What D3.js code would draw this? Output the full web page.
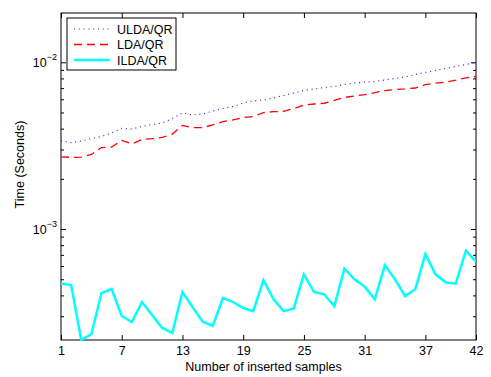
<!DOCTYPE html>
<html>
<head>
<meta charset="utf-8">
<script src="https://cdn.jsdelivr.net/npm/d3@7"></script>
<style>
  body { margin: 0; background: #fff; }
  text { font-family: "Liberation Sans", Arial, sans-serif; }
</style>
</head>
<body>
<div class="chart"></div>
<script>
// data
const samples = d3.range(1, 43);
const ulda = [3.39e-3, 3.30e-3, 3.37e-3, 3.49e-3, 3.59e-3, 3.77e-3, 4.01e-3, 3.98e-3, 4.12e-3, 4.24e-3,
    4.32e-3, 4.60e-3, 4.97e-3, 4.83e-3, 4.90e-3, 5.10e-3, 5.28e-3, 5.43e-3, 5.70e-3, 5.86e-3,
    5.94e-3, 6.11e-3, 6.32e-3, 6.55e-3, 6.78e-3, 6.92e-3, 7.06e-3, 7.16e-3, 7.36e-3, 7.51e-3,
    7.62e-3, 7.67e-3, 7.83e-3, 8.00e-3, 8.16e-3, 8.45e-3, 8.69e-3, 8.93e-3, 9.18e-3, 9.44e-3,
    9.70e-3, 9.97e-3];
const lda = [2.71e-3, 2.69e-3, 2.70e-3, 2.80e-3, 3.08e-3, 3.10e-3, 3.40e-3, 3.24e-3, 3.44e-3, 3.48e-3,
    3.54e-3, 3.71e-3, 4.18e-3, 4.05e-3, 4.06e-3, 4.21e-3, 4.41e-3, 4.51e-3, 4.67e-3, 4.73e-3,
    4.99e-3, 5.06e-3, 5.07e-3, 5.28e-3, 5.54e-3, 5.62e-3, 5.68e-3, 5.90e-3, 6.15e-3, 6.28e-3,
    6.39e-3, 6.57e-3, 6.77e-3, 6.86e-3, 6.92e-3, 7.01e-3, 7.34e-3, 7.49e-3, 7.60e-3, 7.81e-3,
    8.07e-3, 8.22e-3];
const ilda = [4.72e-4, 4.61e-4, 2.16e-4, 2.34e-4, 4.13e-4, 4.37e-4, 3.01e-4, 2.77e-4, 3.65e-4, 3.05e-4,
    2.55e-4, 2.38e-4, 4.19e-4, 3.40e-4, 2.78e-4, 2.63e-4, 3.86e-4, 3.65e-4, 3.36e-4, 3.22e-4,
    4.94e-4, 3.79e-4, 3.22e-4, 3.34e-4, 5.35e-4, 4.19e-4, 4.06e-4, 3.45e-4, 5.78e-4, 4.99e-4,
    4.51e-4, 3.79e-4, 6.06e-4, 4.99e-4, 3.96e-4, 4.35e-4, 7.08e-4, 5.35e-4, 4.79e-4, 4.70e-4,
    7.41e-4, 6.37e-4];
const xTicks = [1, 7, 13, 19, 25, 31, 37, 42];
const yTicks = [1e-3, 1e-2];
const yMinor = [3e-4, 4e-4, 5e-4, 6e-4, 7e-4, 8e-4, 9e-4,
    2e-3, 3e-3, 4e-3, 5e-3, 6e-3, 7e-3, 8e-3, 9e-3];

const margin = {top: 13, left: 61, bottom: 37, right: 15};
const width = 491 - margin.left - margin.right;
const height = 377 - margin.top - margin.bottom;

const svg = d3.select('.chart')
    .append('svg')
    .attr('width', 491)
    .attr('height', 377)
    .append('g')
    .attr('transform', 'translate(' + margin.left + ',' + margin.top + ')');

const xScale = d3.scaleLinear().domain([1, 42]).range([0, width]);
const yScale = d3.scaleLog().domain([2.16e-4, 1.975e-2]).range([height, 0]);

function styleAxis(g) {
    g.select('.domain').remove();
    g.selectAll('line').attr('stroke', '#000');
    g.selectAll('text').attr('font-size', '12.5px').attr('fill', '#000');
}

// x axis bottom + top
svg.append('g')
    .attr('transform', 'translate(0,' + height + ')')
    .call(d3.axisBottom(xScale).tickValues(xTicks).tickSizeInner(-5).tickSizeOuter(0).tickPadding(6))
    .call(styleAxis);
svg.append('g')
    .call(d3.axisTop(xScale).tickValues(xTicks).tickSizeInner(-5).tickSizeOuter(0).tickFormat(''))
    .call(styleAxis);

// y axis left + right, major and minor
svg.append('g')
    .call(d3.axisLeft(yScale).tickValues(yTicks).tickSizeInner(-5).tickSizeOuter(0).tickFormat(''))
    .call(styleAxis);
svg.append('g')
    .call(d3.axisLeft(yScale).tickValues(yMinor).tickSizeInner(-3).tickSizeOuter(0).tickFormat(''))
    .call(styleAxis);
svg.append('g')
    .attr('transform', 'translate(' + width + ',0)')
    .call(d3.axisRight(yScale).tickValues(yTicks).tickSizeInner(-5).tickSizeOuter(0).tickFormat(''))
    .call(styleAxis);
svg.append('g')
    .attr('transform', 'translate(' + width + ',0)')
    .call(d3.axisRight(yScale).tickValues(yMinor).tickSizeInner(-3).tickSizeOuter(0).tickFormat(''))
    .call(styleAxis);

// power-of-ten labels
const ylab = svg.selectAll('.ylab')
    .data(yTicks)
    .enter()
    .append('text')
    .attr('class', 'ylab')
    .attr('x', -4)
    .attr('y', d => yScale(d) + 4.5)
    .attr('text-anchor', 'end')
    .attr('font-size', '12.5px');
ylab.append('tspan').text('10');
ylab.append('tspan')
    .attr('dy', -7)
    .attr('font-size', '9px')
    .text(d => '\u2212' + Math.round(-Math.log10(d)));

// frame
svg.append('rect')
    .attr('width', width)
    .attr('height', height)
    .attr('fill', 'none')
    .attr('stroke', '#000')
    .attr('stroke-width', 1);

// lines
const line = d3.line()
    .x((d, i) => xScale(samples[i]))
    .y(d => yScale(d));

const clip = svg.append('clipPath').attr('id', 'clip')
    .append('rect').attr('width', width).attr('height', height + 1);

const series = [
    {name: 'ULDA/QR', values: ulda, color: '#2626ff', w: 1.2, dash: '1,3.8'},
    {name: 'LDA/QR', values: lda, color: '#ff0000', w: 1.3, dash: '8,5'},
    {name: 'ILDA/QR', values: ilda, color: '#00ffff', w: 2.5, dash: null}
];

series.forEach(s => {
    svg.append('path')
        .datum(s.values)
        .attr('d', line)
        .attr('fill', 'none')
        .attr('stroke', s.color)
        .attr('stroke-width', s.w)
        .attr('stroke-dasharray', s.dash)
        .attr('clip-path', 'url(#clip)');
});

// axis titles
svg.append('text')
    .attr('x', width / 2 - 5)
    .attr('y', height + 31)
    .attr('text-anchor', 'middle')
    .attr('font-size', '12.5px')
    .text('Number of inserted samples');
svg.append('text')
    .attr('transform', 'translate(' + (-37) + ',' + (height / 2 - 12) + ') rotate(-90)')
    .attr('text-anchor', 'middle')
    .attr('font-size', '12.5px')
    .text('Time (Seconds)');

// legend
const legend = svg.append('g').attr('transform', 'translate(6,5)');
legend.append('rect')
    .attr('width', 109)
    .attr('height', 52)
    .attr('fill', '#fff')
    .attr('stroke', '#000')
    .attr('stroke-width', 1);
series.forEach((s, i) => {
    const y = 11 + i * 15.5;
    legend.append('line')
        .attr('x1', 7).attr('x2', 43)
        .attr('y1', y).attr('y2', y)
        .attr('stroke', s.color)
        .attr('stroke-width', s.w)
        .attr('stroke-dasharray', s.dash);
    legend.append('text')
        .attr('x', 50)
        .attr('y', y + 4.5)
        .attr('font-size', '12.5px')
        .text(s.name);
});
</script>
</body>
</html>
